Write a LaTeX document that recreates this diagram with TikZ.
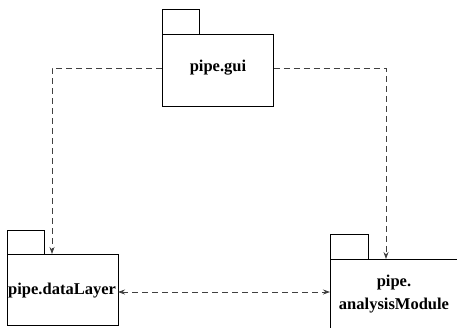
\documentclass[tikz,border=0pt]{standalone}
\usepackage{fontspec}
\setmainfont{Liberation Serif}
\newfontfamily\pkgfont{Liberation Serif Bold}
\usetikzlibrary{arrows.meta}
\begin{document}
\begin{tikzpicture}[x=1pt,y=-1pt,
  pkgbox/.style={draw=black,line width=0.8pt},
  pkglabel/.style={font=\pkgfont\fontsize{16.5}{23.5}\selectfont,align=center,inner sep=0pt},
  dep/.style={draw=black!75,line width=0.8pt,dash pattern=on 6pt off 4pt},
  tip/.style={-{Stealth[length=7pt,width=5pt]}}]
\useasboundingbox (0,0) rectangle (457,327);
\clip (0,0) rectangle (457,327);
% pipe.gui package
\draw[pkgbox] (162,34) |- (199,9) -- (199,34);
\node[pkgbox,minimum width=111pt,minimum height=72pt,anchor=north west,inner sep=0pt] (gui) at (162,34) {};
\node[pkglabel] (guiL) at (218,68) {pipe.gui};
% pipe.dataLayer package
\draw[pkgbox] (7,254) |- (44,230) -- (44,254);
\node[pkgbox,minimum width=111pt,minimum height=71pt,anchor=north west,inner sep=0pt] (data) at (7,254) {};
\node[pkglabel,anchor=west] (dataL) at (8,291) {pipe.dataLayer};
% pipe.analysisModule package (runs off the page)
\draw[pkgbox] (330,259) |- (368,234) -- (368,259);
\node[pkgbox,minimum width=140pt,minimum height=80pt,anchor=north west,inner sep=0pt] (ana) at (330,259) {};
\node[pkglabel] (anaL) at (394,294) {pipe.\\analysisModule};
% dependencies
\coordinate (gl) at (gui.west |- 0,68);
\coordinate (gr) at (gui.east |- 0,68);
\coordinate (dt) at (52,254);
\coordinate (at) at (386,259);
\draw[dep,tip] (gl) -| (dt);
\draw[dep,tip] (gr) -| (at);
\coordinate (dr) at (118,292);
\coordinate (al) at (330,292);
\draw[dep,{Stealth[length=7pt,width=5pt]}-{Stealth[length=7pt,width=5pt]}] (dr) -- (al);
\end{tikzpicture}
\end{document}
